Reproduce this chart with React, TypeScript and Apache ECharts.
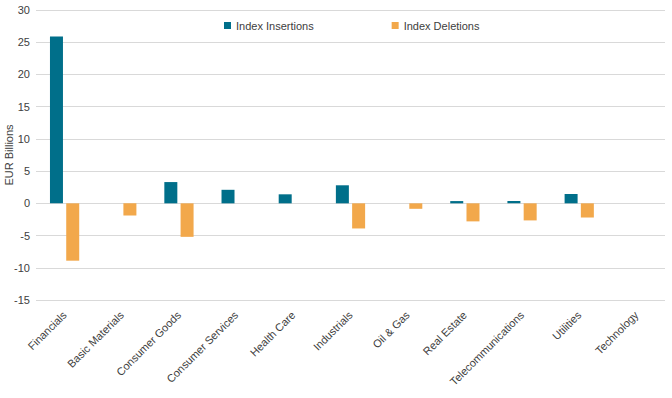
import React, { useEffect, useRef } from "react";
import * as echarts from "echarts";

const categories = [
  "Financials",
  "Basic Materials",
  "Consumer Goods",
  "Consumer Services",
  "Health Care",
  "Industrials",
  "Oil & Gas",
  "Real Estate",
  "Telecommunications",
  "Utilities",
  "Technology",
];
const insertions = [25.9, null, 3.3, 2.1, 1.4, 2.8, null, 0.35, 0.35, 1.45, null];
const deletions = [-8.9, -1.9, -5.2, null, null, -3.9, -0.85, -2.8, -2.65, -2.2, null];

export default function App() {
  const ref = useRef<HTMLDivElement>(null);
  useEffect(() => {
    const chart = echarts.init(ref.current!, null, { renderer: "svg" });
    const font = "Liberation Sans, Arial, sans-serif";
    chart.setOption({
      animation: false,
      textStyle: { fontFamily: font },
      legend: {
        top: 15,
        left: 219,
        itemWidth: 7,
        itemHeight: 7,
        itemGap: 78,
        icon: "rect",
        textStyle: { fontSize: 11, color: "#404040", fontFamily: font },
        data: ["Index Insertions", "Index Deletions"],
      },
      grid: { left: 36, right: 7, top: 10, bottom: 98, containLabel: false, outerBoundsMode: "none" },
      xAxis: {
        type: "category",
        data: categories,
        axisLine: { show: false },
        axisTick: { show: false },
        axisLabel: {
          rotate: 45,
          interval: 0,
          fontSize: 11,
          color: "#404040",
          fontFamily: font,
          margin: 13,
        },
      },
      yAxis: {
        type: "value",
        min: -15,
        max: 30,
        interval: 5,
        name: "EUR Billions",
        nameLocation: "middle",
        nameGap: 22,
        nameMoveOverlap: false,
        nameTextStyle: { fontSize: 11, color: "#404040", fontFamily: font },
        axisLabel: { fontSize: 11, color: "#404040", fontFamily: font, margin: 6 },
        splitLine: { lineStyle: { color: "#d9d9d9", width: 1 } },
        axisLine: { show: false },
        axisTick: { show: false },
      },
      series: [
        {
          name: "Index Insertions",
          type: "bar",
          data: insertions,
          barWidth: 13,
          barGap: "25%",
          itemStyle: { color: "#006F8A" },
        },
        {
          name: "Index Deletions",
          type: "bar",
          data: deletions,
          barWidth: 13,
          barGap: "25%",
          itemStyle: { color: "#F2A84B" },
        },
      ],
    });
    return () => chart.dispose();
  }, []);
  return <div ref={ref} style={{ width: 672, height: 398, position: "absolute", left: 0, top: 0 }} />;
}
